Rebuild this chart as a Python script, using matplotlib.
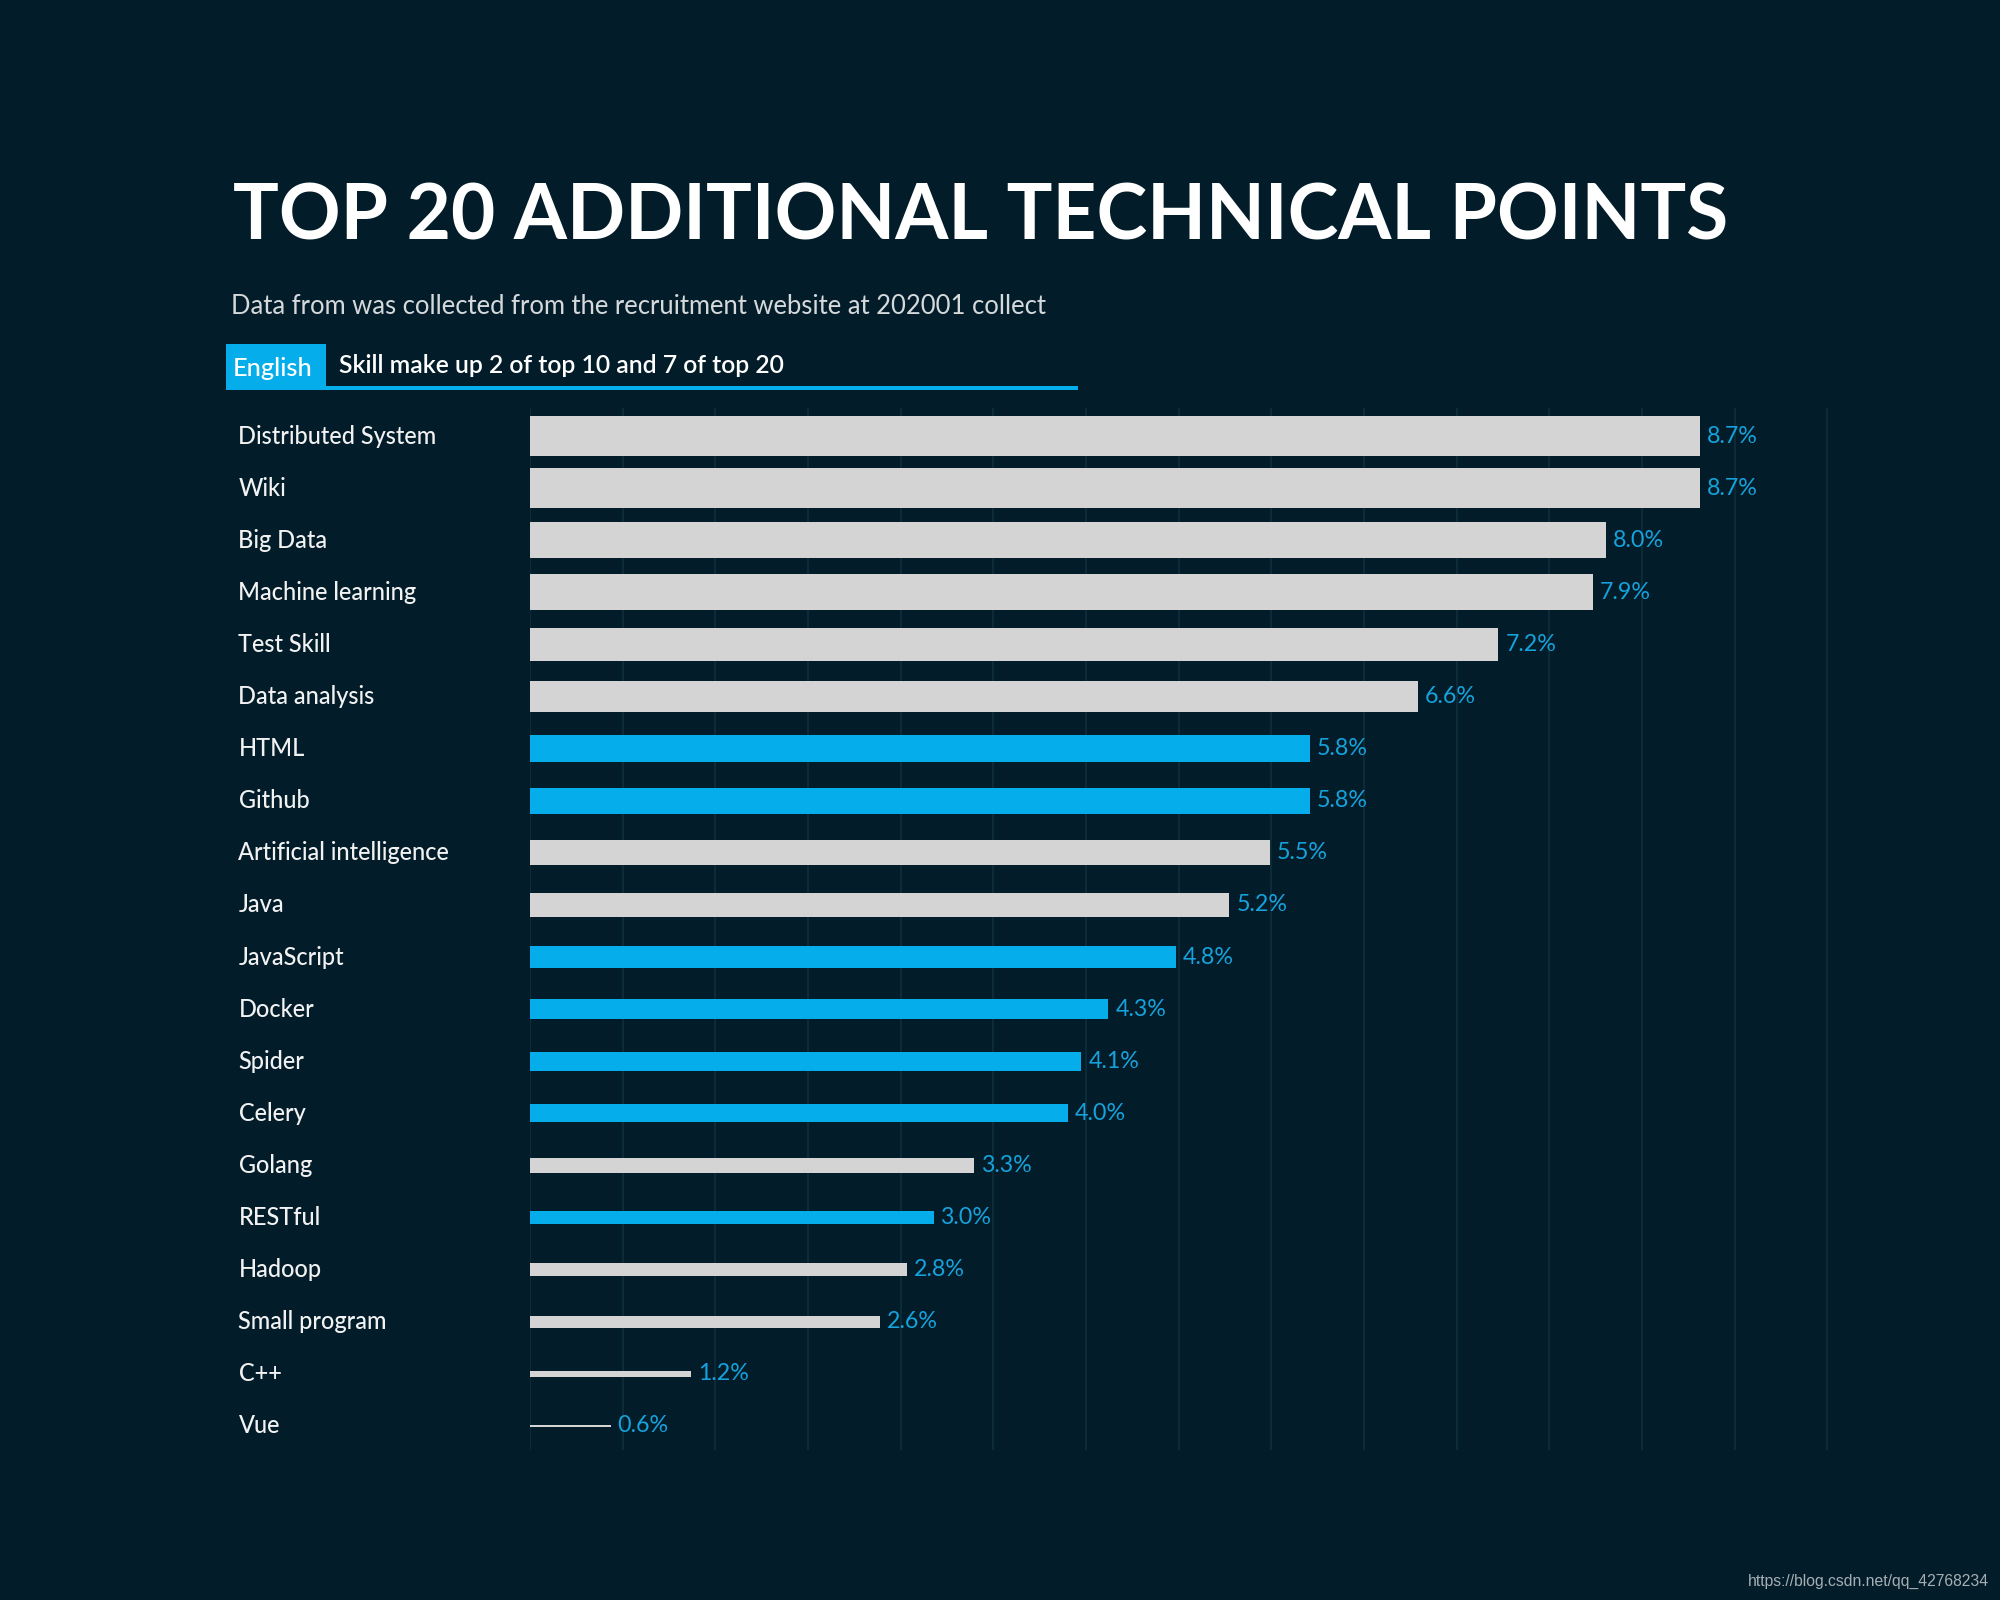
import matplotlib
matplotlib.use("Agg")
import matplotlib.pyplot as plt
from matplotlib.patches import Rectangle
import numpy as np

# ---------------- data ----------------
categories = ["Distributed System", "Wiki", "Big Data", "Machine learning", "Test Skill",
              "Data analysis", "HTML", "Github", "Artificial intelligence", "Java",
              "JavaScript", "Docker", "Spider", "Celery", "Golang", "RESTful",
              "Hadoop", "Small program", "C++", "Vue"]
values = [8.7, 8.7, 8.0, 7.9, 7.2, 6.6, 5.8, 5.8, 5.5, 5.2,
          4.8, 4.3, 4.1, 4.0, 3.3, 3.0, 2.8, 2.6, 1.2, 0.6]
is_english = [False, False, False, False, False, False, True, True, False, False,
              True, True, True, True, False, True, False, False, False, False]
title = "TOP 20 ADDITIONAL TECHNICAL POINTS"
subtitle = "Data from was collected from the recruitment website at 202001 collect"
legend_tag = "English"
legend_text = "Skill make up 2 of top 10 and 7 of top 20"
watermark = "https://blog.csdn.net/qq_42768234"

# ---------------- style ----------------
BG = "#021d29"
GREY = "#d4d4d4"
BLUE = "#05aeea"
LABEL_BLUE = "#16a2dc"
GRID = "#10303d"
W, H = 2000, 1600
FONT = ["Lato", "DejaVu Sans"]

fig = plt.figure(figsize=(20, 16), dpi=100, facecolor=BG)
renderer = fig.canvas.get_renderer()


def fx(px):
    return px / W


def fy(py):
    return 1 - py / H


def fit(t, width_px):
    bb = t.get_window_extent(renderer)
    t.set_fontsize(t.get_fontsize() * width_px / bb.width)
    return t


# ---------------- axes ----------------
ax_left, ax_right, ax_top, ax_bottom = 530, 1832, 408, 1450
ax = fig.add_axes([fx(ax_left), fy(ax_bottom), fx(ax_right - ax_left), (ax_bottom - ax_top) / H])
ax.set_facecolor(BG)

px_per_unit = 134.5
grid_step = 0.689
ax.set_xlim(0, (ax_right - ax_left) / px_per_unit)
row_px = 52.1
ax.set_ylim(19 + (ax_bottom - 1426) / row_px, -(436 - ax_top) / row_px)

ys = list(range(len(categories)))
heights = [v * 0.0875 for v in values]
colors = [BLUE if e else GREY for e in is_english]
ax.barh(ys, values, height=heights, color=colors, zorder=3)

ax.set_xticks(np.arange(0, 15) * grid_step)
ax.grid(axis="x", color=GRID, linewidth=1.1, zorder=0)
ax.tick_params(length=0, labelbottom=False, labelleft=False)
for s in ax.spines.values():
    s.set_visible(False)

# value labels
vlabels = []
for y, v in zip(ys, values):
    t = ax.annotate(f"{v:.1f}%", xy=(v, y), xytext=(7, 0), textcoords="offset pixels",
                    va="center", ha="left", color=LABEL_BLUE, fontsize=15,
                    family=FONT, fontweight="normal", zorder=4)
    vlabels.append(t)
fit(vlabels[0], 51)
for t in vlabels[1:]:
    t.set_fontsize(vlabels[0].get_fontsize())

# category labels
clabels = []
for y, c in zip(ys, categories):
    t = ax.annotate(c, xy=(0, y), xycoords=("figure fraction", "data"),
                    xytext=(238.5, 0), textcoords="offset pixels",
                    va="center", ha="left", color="#f2f2f2", fontsize=16,
                    family=FONT, fontweight="medium")
    clabels.append(t)
fit(clabels[0], 200)
for t in clabels[1:]:
    t.set_fontsize(clabels[0].get_fontsize())

# ---------------- titles ----------------
tt = fig.text(fx(233), fy(240), title, color="white", fontsize=70, fontweight="bold",
              family=FONT, ha="left", va="baseline")
fit(tt, 1498)

st = fig.text(fx(231), fy(314), subtitle, color="#d6d9db", fontsize=18, fontweight="normal",
              family=FONT, ha="left", va="baseline")
fit(st, 812)

# legend strip
fig.add_artist(Rectangle((fx(226), fy(390)), fx(1078 - 226), 4 / H, transform=fig.transFigure,
                         facecolor=BLUE, edgecolor="none"))
fig.add_artist(Rectangle((fx(226), fy(390)), fx(326 - 226), (390 - 344) / H, transform=fig.transFigure,
                         facecolor=BLUE, edgecolor="none"))
lt = fig.text(fx(233), fy(376), legend_tag, color="white", fontsize=18, fontweight="medium",
              family=FONT, ha="left", va="baseline")
fit(lt, 80)
lt2 = fig.text(fx(339), fy(373), legend_text, color="white", fontsize=18, fontweight="semibold",
               family=FONT, ha="left", va="baseline")
fit(lt2, 446)

wm = fig.text(fx(1989), fy(1581), watermark, color="#a6aeb3", fontsize=12,
              family=["Liberation Sans", "DejaVu Sans"], ha="right", va="center")
fit(wm, 242)

fig.savefig("out.png", dpi=100, facecolor=BG)
